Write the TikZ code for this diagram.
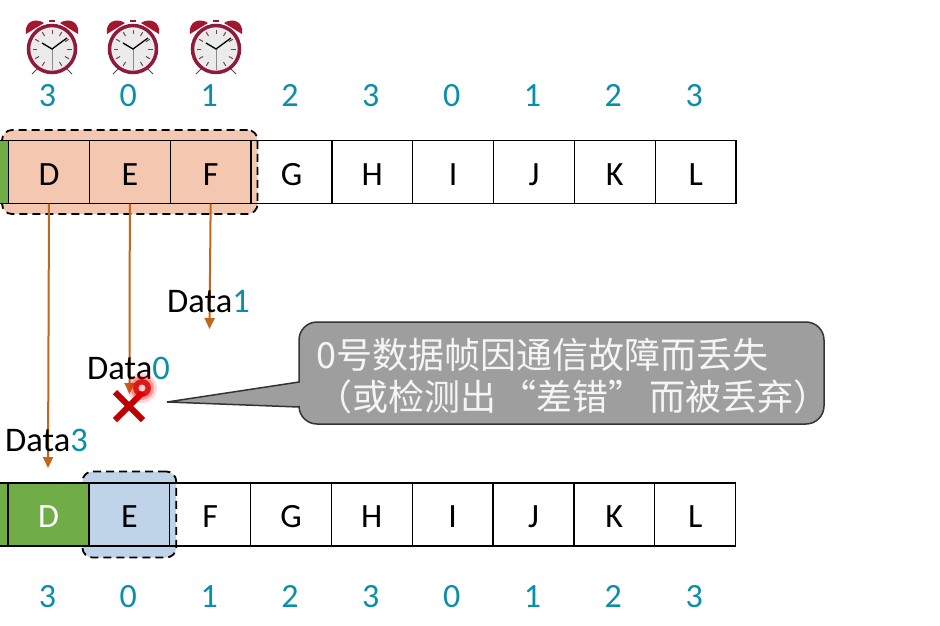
\documentclass[tikz,border=0pt]{standalone}
\usepackage{fontspec}
\setmainfont{Carlito}
\newfontfamily\cjk{Noto Sans CJK SC}
\usetikzlibrary{arrows.meta,backgrounds,fit,shapes.misc}
\definecolor{peach}{HTML}{F4C7B0}
\definecolor{sky}{HTML}{BFD4E8}
\definecolor{leaf}{HTML}{70AD47}
\definecolor{teal}{HTML}{0A8FAB}
\definecolor{rust}{HTML}{C4651C}
\definecolor{wine}{HTML}{8E1B3A}
\definecolor{bubble}{HTML}{9E9E9E}
\tikzset{
  clock/.pic = {
    \fill[wine!80!red] (-26,-15) .. controls (-28,-27) and (-17,-32) .. (-8,-26) -- cycle;
    \fill[wine!80!red] (26,-15) .. controls (28,-27) and (17,-32) .. (8,-26) -- cycle;
    \draw[black!70, line width=1pt] (-14,19) -- (-20,25);
    \draw[black!70, line width=1pt] (14,19) -- (20,25);
    \draw[wine, line width=1.5pt] (-3,-28) -- (3,-28);
    \draw[wine, line width=3.5pt, fill=black!8] (0,0) circle (23.5pt);
    \foreach \ang in {0,30,...,330}
      \draw[wine!60!black!80, line width=1pt] (\ang:15pt) -- (\ang:19.5pt);
    \draw[black!45, line width=.7pt] (0,0) -- (0,21);
    \draw[black, line width=1.3pt] (-10,-6) -- (0,0) -- (15,-11);
  }
}
\begin{document}
\begin{tikzpicture}[x=1pt, y=-1pt,
    cell/.style = {draw, line width=1.2pt, minimum width=80.83pt, minimum height=63pt,
      inner sep=0pt, outer sep=0pt, text height=26pt, text depth=0pt,
      font=\fontsize{34}{34}\selectfont},
    num/.style = {text=teal, inner sep=0pt, text height=22pt, text depth=0pt,
      font=\fontsize{34}{34}\selectfont},
    datalabel/.style = {inner sep=0pt, font=\fontsize{34.5}{34.5}\selectfont},
    window/.style = {draw, dashed, rounded corners=10pt, line width=1.8pt,
      dash pattern=on 8pt off 5pt, inner ysep=10.5pt, inner xsep=6.5pt},
    sendline/.style = {draw=rust, line width=2pt, -{Triangle[length=11pt, width=10pt]}},
    bubblebox/.style = {draw=black!80, fill=bubble, line width=1.5pt},
    bubbletext/.style = {text=white!96!black, inner sep=0pt, font=\fontsize{36}{36}\selectfont\cjk},
    node distance = 80.83pt]
  \useasboundingbox (0,0) rectangle (940,625);

  \pic at (52,49) {clock};
  \pic at (133,49) {clock};
  \pic at (216,49) {clock};

  % sender row
  \node[cell, fill=peach] (sD) at (49,172) {D};
  \node[cell, fill=leaf] (sC) [left of=sD] {};
  \node[cell, fill=peach] (sE) [right of=sD] {E};
  \node[cell, fill=peach] (sF) [right of=sE] {F};
  \node[cell] (sG) [right of=sF] {G};
  \node[cell] (sH) [right of=sG] {H};
  \node[cell] (sI) [right of=sH] {I};
  \node[cell] (sJ) [right of=sI] {J};
  \node[cell] (sK) [right of=sJ] {K};
  \node[cell] (sL) [right of=sK] {L};

  % receiver row
  \node[cell, fill=leaf, text=white] (rD) at (48.5,514.5) {D};
  \node[cell, fill=leaf] (rC) [left of=rD] {};
  \node[cell, fill=sky] (rE) [right of=rD] {E};
  \node[cell] (rF) [right of=rE] {F};
  \node[cell] (rG) [right of=rF] {G};
  \node[cell] (rH) [right of=rG] {H};
  \node[cell] (rI) [right of=rH] {I};
  \node[cell] (rJ) [right of=rI] {J};
  \node[cell] (rK) [right of=rJ] {K};
  \node[cell] (rL) [right of=rK] {L};

  \begin{scope}[on background layer]
    \node[window, fill=peach, fit=(sD)(sF)] (swin) {};
    \node[window, fill=sky, inner ysep=11.5pt, fit=(rE)] (rwin) {};
  \end{scope}

  % sequence numbers
  \node[num] (s0) at (47.5,95) {3};
  \node[num] (s1) [right of=s0] {0};
  \node[num] (s2) [right of=s1] {1};
  \node[num] (s3) [right of=s2] {2};
  \node[num] (s4) [right of=s3] {3};
  \node[num] (s5) [right of=s4] {0};
  \node[num] (s6) [right of=s5] {1};
  \node[num] (s7) [right of=s6] {2};
  \node[num] (s8) [right of=s7] {3};

  \node[num] (r0) at (47.5,596.5) {3};
  \node[num] (r1) [right of=r0] {0};
  \node[num] (r2) [right of=r1] {1};
  \node[num] (r3) [right of=r2] {2};
  \node[num] (r4) [right of=r3] {3};
  \node[num] (r5) [right of=r4] {0};
  \node[num] (r6) [right of=r5] {1};
  \node[num] (r7) [right of=r6] {2};
  \node[num] (r8) [right of=r7] {3};

  % frames on the way
  \coordinate (d3) at (48,468);
  \coordinate (d0) at (129.5,394);
  \coordinate (d1) at (209.5,329);
  \draw[sendline] (sD.south) -- (d3);
  \draw[sendline] (sE.south) -- (d0);
  \draw[sendline] (sF.south) -- (d1);

  \node[datalabel] (l1) at (208.5,302) {Data\textcolor{teal}{1}};
  \node[datalabel] (l0) at (128.5,368) {Data\textcolor{teal}{0}};
  \node[datalabel] (l3) at (46.5,440) {Data\textcolor{teal}{3}};

  \node[cross out, draw=red!75!black, line width=6pt, minimum size=22pt, inner sep=0pt] (lost) at (129,406) {};

  % laser pointer
  \fill[red, opacity=.15] (142,388) circle (15pt);
  \fill[red, opacity=.3] (142,388) circle (12pt);
  \fill[red!85!black, opacity=.85] (142,388) circle (9pt);
  \fill[white!80!red] (142,388) circle (3.5pt);

  \draw[bubblebox] (299,407) [rounded corners=18pt] -- (299,424) -- (824,424) -- (824,322) -- (299,322)
    [sharp corners] -- (299,382) -- (167,402) -- cycle;
  \node[bubbletext, anchor=west] (t1) at (316,355) {0号数据帧因通信故障而丢失};
  \node[bubbletext, anchor=west] (t2) at (316,397) {（或检测出\makebox[40pt][r]{“}差错\makebox[41pt][l]{”}而被丢弃）};
\end{tikzpicture}
\end{document}
